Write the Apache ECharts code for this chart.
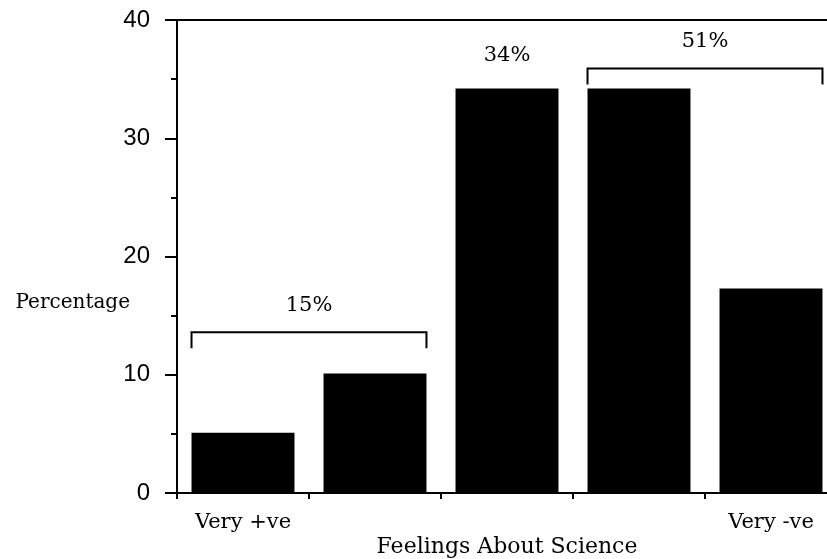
<!DOCTYPE html>
<html><head><meta charset="utf-8">
<script src="https://cdn.jsdelivr.net/npm/echarts@6/dist/echarts.min.js"></script>
<style>html,body{margin:0;padding:0;background:#fff}#c{width:827px;height:559px}</style>
</head><body><div id="c"></div>
<script>
const categories = ['Very +ve', 'Positive', 'Neutral', 'Negative', 'Very -ve'];
const categoryLabels = ['Very +ve', '', '', '', 'Very -ve'];
const percentages = [5.1, 10.1, 34.2, 34.2, 17.3];
const yTickValues = [0, 10, 20, 30, 40];
// bracket groups: first index, last index, level
const bracketStart = [0, 3];
const bracketEnd = [1, 4];
const bracketLevels = [13.6, 35.9];
const bracketLabels = ['15%', '51%'];
const singleLabelIndex = 2;
const singleLabel = '34%';

const SERIF = '"DejaVu Serif", "Liberation Serif", serif';
const SANS = '"Liberation Sans", Arial, sans-serif';
const BAR_FRAC = 0.78;

const chart = echarts.init(document.getElementById('c'), null, {renderer: 'canvas'});

const barData = percentages.map((v, i) => i === singleLabelIndex ? {
  value: v,
  label: {show: true, position: 'top', distance: 23, formatter: singleLabel,
    fontFamily: SERIF, fontSize: 21, color: '#000'}
} : v);

const bracketData = bracketStart.map((s, i) => [s, bracketEnd[i], bracketLevels[i]]);

chart.setOption({
  animation: false,
  backgroundColor: '#fff',
  grid: {left: 177, top: 20, width: 660, height: 473, show: true, outerBoundsMode: 'none',
    containLabel: false,
    borderColor: '#000', borderWidth: 2, backgroundColor: 'transparent'},
  xAxis: {
    type: 'category', data: categories,
    name: 'Feelings About Science', nameLocation: 'middle', nameGap: 43, nameMoveOverlap: false,
    nameTextStyle: {fontFamily: SERIF, fontSize: 22, color: '#000'},
    axisLine: {lineStyle: {color: '#000', width: 2}},
    axisTick: {show: true, alignWithLabel: false, length: 6, lineStyle: {color: '#000', width: 2}},
    axisLabel: {formatter: (v, i) => categoryLabels[i], fontFamily: SERIF, fontSize: 21,
      color: '#000', margin: 19, interval: 0}
  },
  yAxis: {
    type: 'value', min: yTickValues[0], max: yTickValues[yTickValues.length - 1], interval: 10,
    name: 'Percentage', nameLocation: 'middle', nameRotate: 0, nameGap: 47, nameMoveOverlap: false,
    nameTextStyle: {fontFamily: SERIF, fontSize: 20, color: '#000', verticalAlign: 'top', lineHeight: 92},
    axisLine: {show: true, lineStyle: {color: '#000', width: 2}},
    axisTick: {show: true, length: 12, lineStyle: {color: '#000', width: 2}},
    minorTick: {show: true, splitNumber: 2, length: 6, lineStyle: {color: '#000', width: 2}},
    splitLine: {show: false},
    axisLabel: {fontFamily: SANS, fontSize: 24, color: '#000', margin: 27}
  },
  series: [
    {type: 'bar', data: barData, barWidth: (BAR_FRAC * 100) + '%',
      itemStyle: {color: '#000'}},
    {type: 'custom', data: bracketData, encode: {x: 0, y: 2}, z: 5,
      renderItem: function (params, api) {
        const s = api.value(0), e = api.value(1), lvl = api.value(2);
        const p0 = api.coord([s, lvl]);
        const p1 = api.coord([e, lvl]);
        const half = api.size([1, 0])[0] * BAR_FRAC / 2;
        const x0 = p0[0] - half, x1 = p1[0] + half, y = p0[1];
        const st = {stroke: '#000', lineWidth: 2, fill: null};
        return {type: 'group', children: [
          {type: 'polyline', shape: {points: [[x0, y + 16], [x0, y], [x1, y], [x1, y + 16]]}, style: st},
          {type: 'text', style: {text: bracketLabels[params.dataIndex], x: (x0 + x1) / 2, y: y - 27,
            align: 'center', verticalAlign: 'middle', fontFamily: SERIF, fontSize: 21, fill: '#000'}}
        ]};
      }}
  ]
});
</script></body></html>
